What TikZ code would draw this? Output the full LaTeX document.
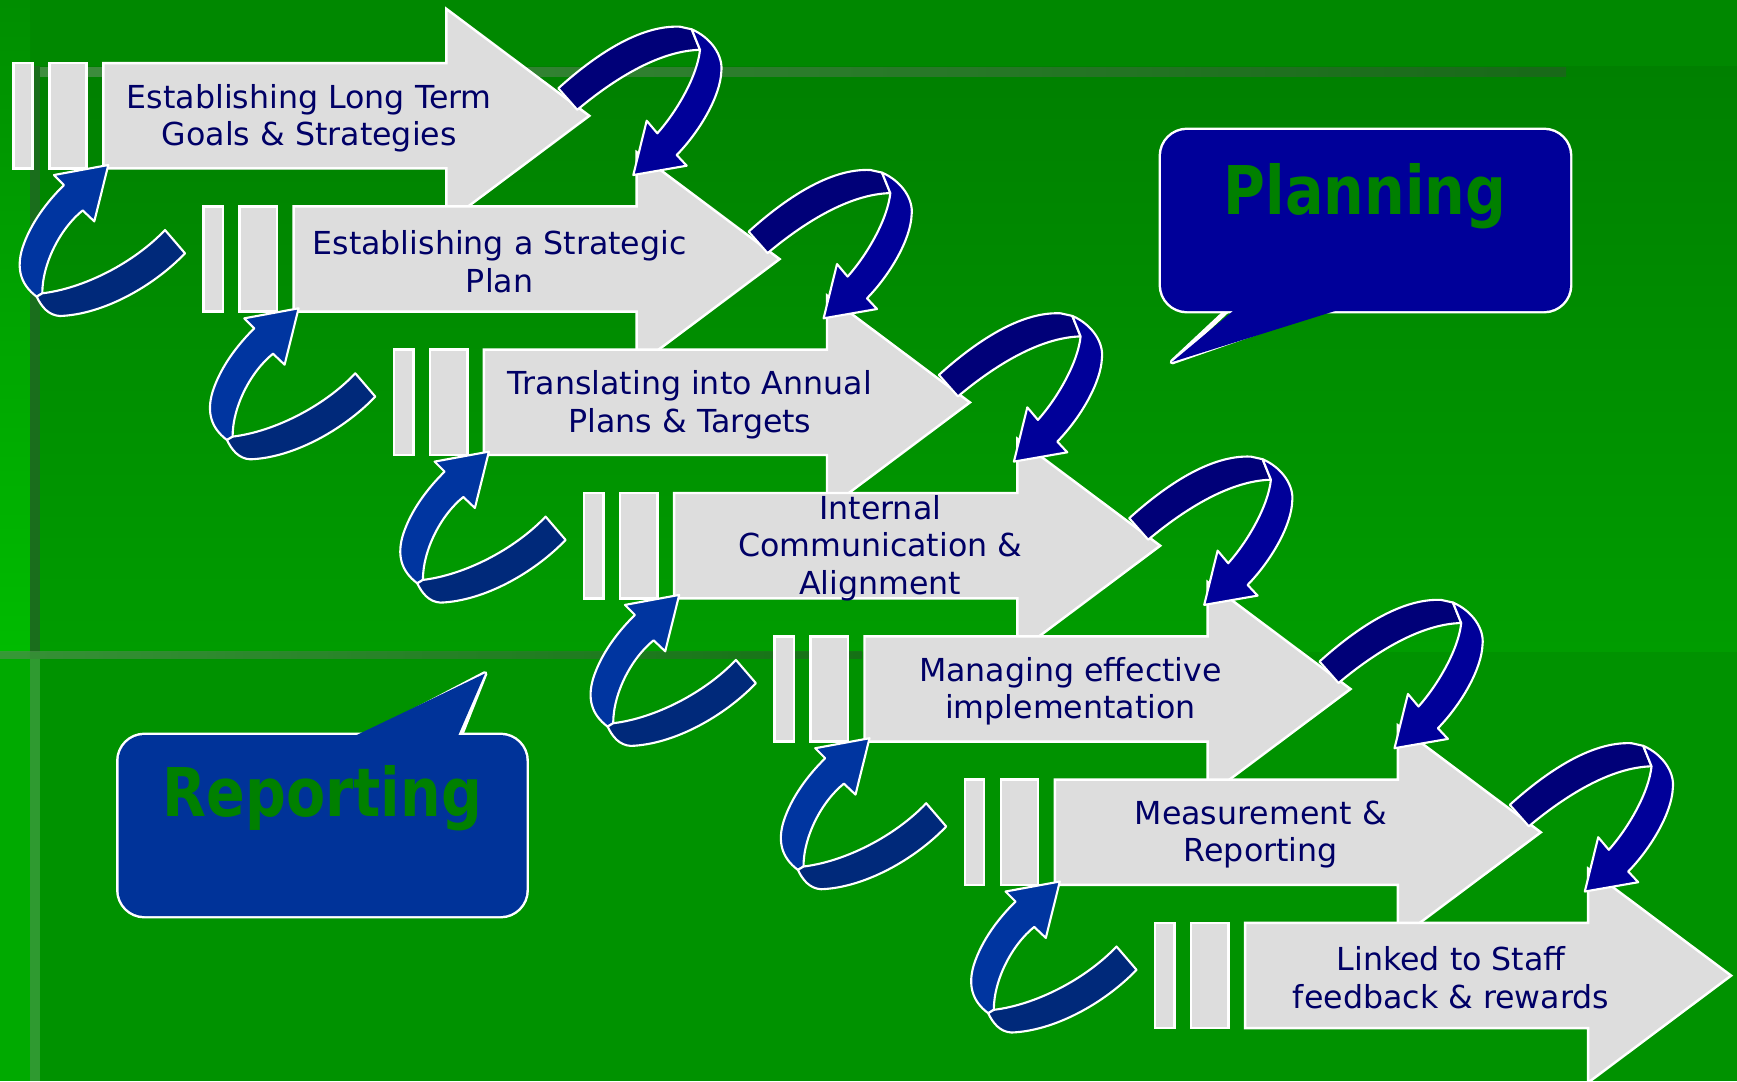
\documentclass[tikz,border=0pt]{standalone}
\usepackage{fontspec}
\setmainfont{DejaVu Sans}
\newfontfamily\calloutfont{DejaVu Sans}[FakeStretch=0.85]

\definecolor{bgmain}{HTML}{008800}
\definecolor{bgbandtop}{HTML}{008000}
\definecolor{bgbandlow}{HTML}{009C00}
\definecolor{bglow}{HTML}{009200}
\definecolor{stripuptop}{HTML}{008E00}
\definecolor{stripuplow}{HTML}{00BB00}
\definecolor{striplow}{HTML}{00AA00}
\definecolor{darkband}{HTML}{1A6E1C}
\definecolor{dotband}{HTML}{2F9A30}
\definecolor{linelight}{HTML}{4E924E}
\definecolor{linedark}{HTML}{1E641E}
\definecolor{arrowgrey}{HTML}{DDDDDD}
\definecolor{textnavy}{HTML}{000066}
\definecolor{ribbonA}{HTML}{000078}
\definecolor{ribbonAfront}{HTML}{000099}
\definecolor{ribbonB}{HTML}{0035A0}
\definecolor{ribbonBback}{HTML}{00297A}
\definecolor{planblue}{HTML}{000099}
\definecolor{reportblue}{HTML}{003399}
\definecolor{calloutgreen}{HTML}{008000}

\tikzset{
    blockarrow/.style={fill=arrowgrey, draw=white, line width=0.7pt},
    steptext/.style={text=textnavy, align=center, font=\fontsize{9}{10.7}\selectfont},
    ribbon/.style={draw=white, line width=0.6pt, line join=round},
    calloutedge/.style={draw=white, line width=1.4pt, line join=round},
    callouttext/.style={text=calloutgreen, font=\calloutfont\bfseries\fontsize{19.1}{23}\selectfont}
}

\begin{document}
\begin{tikzpicture}[x=0.01cm, y=-0.01cm]
    \useasboundingbox (0,0) rectangle (1737,1081);

    % Background of the slide
    \fill[bgmain] (0,0) rectangle (1737,1081);
    \shade[top color=bgbandtop, bottom color=bgbandlow] (40,66) rectangle (1737,652);
    \fill[bglow] (40,652) rectangle (1737,1081);
    \shade[top color=stripuptop, bottom color=stripuplow] (0,0) rectangle (30,652);
    \fill[striplow] (0,652) rectangle (30,1081);
    \fill[darkband] (30,66) rectangle (40,652);
    \fill[dotband] (30,659) rectangle (40,1081);
    \shade[left color=linelight, right color=linedark, opacity=0.8] (40,67) rectangle (1566,76);
    \shade[left color=linelight, right color=linedark, opacity=0.7] (0,651) rectangle (862,658);

    % Draw the seven block arrows
    \foreach \txt [count=\i from 0] in {Establishing Long Term\\Goals \& Strategies,
        Establishing a Strategic\\Plan,
        Translating into Annual\\Plans \& Targets,
        Internal\\Communication \&\\Alignment,
        Managing effective\\implementation,
        Measurement \&\\Reporting,
        Linked to Staff\\feedback \& rewards} {
        \coordinate (corner\i) at ({103.3+190.3*\i},{63.1+143.3*\i});
        \begin{scope}[shift={(corner\i)}]
            \filldraw[blockarrow] (-90,0) rectangle (-70.6,105.3);
            \filldraw[blockarrow] (-54,0) rectangle (-16.6,105.3);
            \filldraw[blockarrow] (0,0) -- (343.1,0) -- (343.1,-54.2) -- (486,52.7)
                -- (343.1,159.6) -- (343.1,105.3) -- (0,105.3) -- cycle;
            \node[steptext] (step\i) at (206,55) {\txt};
            \coordinate (tip\i) at (486,52.7);
            \coordinate (foot\i) at (0,105.3);
        \end{scope}
    }

    % Curved arrows between the steps
    \foreach \i in {0,...,5} {
        % forward arrow over the head
        \begin{scope}[shift={(tip\i)}]
            \filldraw[ribbon, fill=ribbonA] (-31,-27.5) .. controls (5,-60) and (50,-91) .. (90.7,-89.1)
                -- (102.4,-86.5) -- (110.7,-66) .. controls (70,-65) and (25,-37) .. (-12,-6) -- cycle;
            \filldraw[ribbon, fill=ribbonAfront] (102.4,-86.5) .. controls (122,-78) and (134,-60) .. (132,-44.1)
                .. controls (131,-20) and (111,15) .. (87.4,39.2) -- (97.4,49.9) -- (44,59.2) -- (57.4,4.9)
                -- (68,17.5) .. controls (88,-5) and (108,-40) .. (110.7,-66) -- cycle;
        \end{scope}
        % backward arrow under the bars
        \begin{scope}[shift={(foot\i)}]
            \filldraw[ribbon, fill=ribbonB] (5,-3.4) -- (-9,53) -- (-20.6,42)
                .. controls (-43,60) and (-61,95) .. (-61,124.9) -- (-66.6,128.3)
                .. controls (-83,116) and (-87,100) .. (-81,80) .. controls (-73,55) and (-56,33) .. (-39.3,16.6)
                -- (-49.3,6.6) -- cycle;
            \filldraw[ribbon, fill=ribbonBback] (-61,124.9) .. controls (-20,120) and (30,95) .. (61.7,61.6)
                -- (81.7,84.9) .. controls (50,118) and (0,146) .. (-43.3,147.6)
                .. controls (-55,147) and (-62,138) .. (-66.6,128.3) -- cycle;
        \end{scope}
    }

    % Planning callout
    \draw[calloutedge, rounded corners=0.26cm] (1161,130) rectangle (1570,311);
    \draw[calloutedge] (1233,305) -- (1172,362) -- (1335,305);
    \fill[planblue, rounded corners=0.26cm] (1161,130) rectangle (1570,311);
    \fill[planblue] (1233,311) -- (1172,362) -- (1335,311) -- (1335,300) -- (1233,300) -- cycle;
    \node[callouttext, anchor=base] (planning) at (1365,214) {Planning};

    % Reporting callout
    \draw[calloutedge, rounded corners=0.26cm] (118.5,735) rectangle (526.5,916);
    \draw[calloutedge] (356.7,741) -- (485,673.5) -- (458.3,741);
    \fill[reportblue, rounded corners=0.26cm] (118.5,735) rectangle (526.5,916);
    \fill[reportblue] (356.7,735) -- (485,673.5) -- (458.3,735) -- (458.3,746) -- (356.7,746) -- cycle;
    \node[callouttext, anchor=base] (reporting) at (322.3,816.7) {Reporting};

\end{tikzpicture}
\end{document}
